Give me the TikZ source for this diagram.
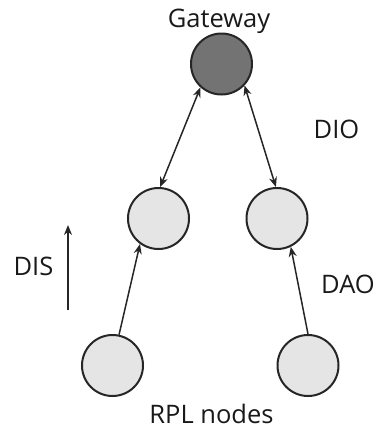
\documentclass[tikz,border=0pt]{standalone}
\usepackage{fontspec}
\setmainfont{Open Sans}
\usetikzlibrary{positioning}
\usetikzlibrary{arrows.meta}

\definecolor{gwgray}{HTML}{737373}
\definecolor{nodegray}{HTML}{E5E5E5}
\definecolor{linegray}{HTML}{262626}

\begin{document}
\begin{tikzpicture}[x=1pt,y=-1pt,
  rpl/.style={draw=linegray, line width=2pt, circle, minimum size=61pt, inner sep=0pt, fill=nodegray},
  lbl/.style={anchor=base, font=\fontsize{25.5}{30}\selectfont, text=black!90, inner sep=0pt},
  link/.style={draw=linegray, line width=1.5pt, -{Stealth[length=10pt,width=8pt]}}]
  \useasboundingbox (0,0) rectangle (386,429);

  \node[rpl, fill=gwgray] (gw) at (221.5,64) {};
  \node[rpl] (ml) at (158.5,218.5) {};
  \node[rpl] (mr) at (277,218.5) {};
  \node[rpl] (bl) at (112.5,365.5) {};
  \node[rpl] (br) at (308,365.5) {};

  \node[lbl] (gwtext) at (219,27) {Gateway};
  \node[lbl] (rpltext) at (211.5,423) {RPL nodes};
  \node[lbl] (dio) at (336.5,138) {DIO};
  \node[lbl] (dao) at (348,293) {DAO};
  \node[lbl] (dis) at (33.5,275) {DIS};

  \coordinate (disfrom) at (68,310);
  \coordinate (disto) at (68,225);

  \draw[link, {Stealth[length=10pt,width=8pt]}-{Stealth[length=10pt,width=8pt]}] (gw.228) -- (ml.87);
  \draw[link, {Stealth[length=10pt,width=8pt]}-{Stealth[length=10pt,width=8pt]}] (gw.317) -- (mr.92);
  \draw[link] (bl.78) -- (ml.234);
  \draw[link] (br.90) -- (mr.296);
  \draw[link] (disfrom) -- (disto);
\end{tikzpicture}
\end{document}
